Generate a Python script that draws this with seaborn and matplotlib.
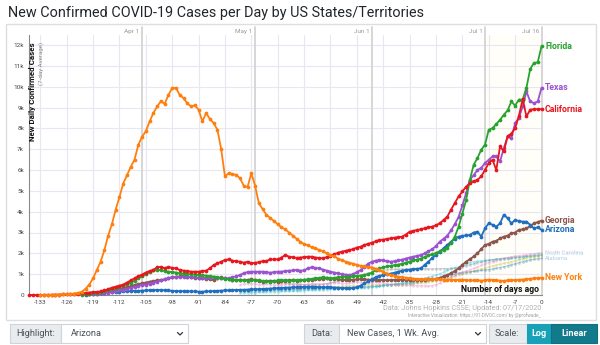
import matplotlib
matplotlib.use("Agg")
import matplotlib.pyplot as plt
import seaborn as sns
import numpy as np
from matplotlib.patches import Rectangle
from matplotlib.lines import Line2D

# ---------------- data (thousands of new cases per day, 7-day avg) ----------------
ny_start = -133
ny_vals = [0, 0, 0, 0.01, 0.01, 0.02, 0.03, 0.04, 0.05, 0.07, 0.1, 0.15,
           0.3, 0.5, 0.8, 1.2, 1.6, 2.15, 2.85, 3.4, 4.1, 4.7,
           5.35, 5.75, 6.15, 6.5, 7.2, 7.6, 7.85, 8.33, 8.73, 9.05,
           9.3, 9.17, 9.6, 9.94, 9.94, 9.6, 9.45, 9.2, 9.05, 9.1,
           8.9, 8.33, 8.73, 8.45, 8.25, 7.93, 7.0, 5.69, 5.85, 5.8,
           5.77, 5.6, 5.24, 5.18, 5.85, 5.24, 4.4, 4.12, 3.85, 3.7,
           3.55, 3.4, 3.25, 3.15, 3.0, 2.85, 2.7, 2.55, 2.45, 2.38,
           2.3, 2.25, 2.15, 2.1, 2.0, 1.92, 1.85, 1.75, 1.67, 1.6,
           1.55, 1.5, 1.45, 1.4, 1.37, 1.35, 1.32, 1.27, 1.2, 1.12,
           1.03, 0.96, 0.92, 0.88, 0.85, 0.83, 0.8, 0.79, 0.77, 0.76,
           0.75, 0.77, 0.78, 0.76, 0.75, 0.74, 0.73, 0.74, 0.72, 0.73,
           0.74, 0.72, 0.7, 0.7, 0.71, 0.69, 0.7, 0.74, 0.72, 0.7,
           0.69, 0.68, 0.7, 0.71, 0.72, 0.73, 0.74, 0.76, 0.78, 0.8, 0.81, 0.83]

ca_start = -136
ca_vals = [0, 0, 0, 0, 0.01, 0.01, 0.01, 0.02, 0.02, 0.03,
           0.03, 0.04, 0.05, 0.06, 0.08, 0.1, 0.12, 0.14, 0.15, 0.17,
           0.22, 0.28, 0.35, 0.4, 0.45, 0.5, 0.6, 0.7, 0.8, 0.9,
           0.98, 1.08, 1.15, 1.2, 1.33, 1.35, 1.28, 1.35, 1.3, 1.28,
           1.2, 1.17, 1.15, 1.12, 1.12, 1.12, 1.15, 1.17, 1.28, 1.44,
           1.52, 1.6, 1.68, 1.71, 1.65, 1.62, 1.6, 1.55, 1.6, 1.52,
           1.55, 1.57, 1.63, 1.63, 1.71, 1.71, 1.71, 1.8, 1.92, 1.84,
           1.81, 1.78, 1.8, 1.82, 1.84, 1.84, 1.8, 1.78, 1.76, 1.82,
           1.88, 1.95, 2.03, 2.08, 2.12, 2.16, 2.2, 2.28, 2.32, 2.4,
           2.46, 2.51, 2.58, 2.64, 2.66, 2.69, 2.72, 2.75, 2.78, 2.8,
           2.9, 3.04, 3.08, 3.12, 3.16, 3.2, 3.25, 3.28, 3.35, 3.44,
           3.6, 3.76, 4.1, 4.41, 4.73, 4.97, 5.2, 5.37, 5.45, 5.53,
           5.69, 6.0, 6.33, 6.49, 6.0, 7.13, 6.89, 7.61, 7.75, 8.0,
           8.6, 9.4, 8.57, 8.89, 8.92, 8.92, 8.92]

fl_start = -122
fl_vals = [0.02, 0.04, 0.06, 0.08, 0.12, 0.16, 0.2, 0.25, 0.3, 0.35,
           0.4, 0.45, 0.52, 0.6, 0.68, 0.8, 0.9, 1.0, 1.1, 1.18,
           1.2, 1.2, 1.15, 1.12, 1.1, 1.08, 1.04, 1.02, 1.0, 1.0,
           0.98, 0.96, 0.95, 0.93, 0.91, 0.88, 0.85, 0.8, 0.78, 0.75,
           0.74, 0.73, 0.72, 0.7, 0.69, 0.7, 0.72, 0.7, 0.68, 0.66,
           0.64, 0.66, 0.7, 0.72, 0.7, 0.69, 0.7, 0.72, 0.72, 0.73,
           0.75, 0.77, 0.8, 0.82, 0.85, 0.83, 0.8, 0.82, 0.85, 0.87,
           0.88, 0.88, 0.9, 0.92, 0.93, 0.96, 1.0, 1.08, 1.2, 1.28,
           1.33, 1.37, 1.4, 1.43, 1.46, 1.5, 1.55, 1.6, 1.66, 1.7,
           1.75, 1.82, 1.9, 1.95, 2.02, 2.1, 2.18, 2.25, 2.5, 2.8,
           3.28, 3.9, 4.57, 5.53, 6.25, 6.57, 6.97, 7.21, 7.93, 8.01,
           8.2, 8.41, 8.65, 8.86, 9.29, 9.09, 9.38, 9.38, 9.94, 10.85, 11.14, 11.17, 11.94]

tx_start = -120
tx_vals = [0.03, 0.04, 0.06, 0.08, 0.1, 0.12, 0.15, 0.18, 0.22, 0.26,
           0.3, 0.35, 0.4, 0.44, 0.48, 0.5, 0.55, 0.6, 0.64, 0.7,
           0.75, 0.8, 0.85, 0.86, 0.87, 0.87, 0.86, 0.85, 0.85, 0.82,
           0.8, 0.82, 0.83, 0.85, 0.82, 0.8, 0.8, 0.8, 0.85, 0.9,
           0.96, 1.05, 1.1, 1.12, 1.12, 1.12, 1.12, 1.1, 1.07, 1.1,
           1.12, 1.12, 1.15, 1.17, 1.18, 1.2, 1.17, 1.18, 1.28, 1.33,
           1.3, 1.28, 1.22, 1.17, 1.12, 1.08, 1.04, 1.0, 0.98, 0.96,
           1.0, 1.1, 1.2, 1.35, 1.5, 1.6, 1.65, 1.68, 1.66, 1.62,
           1.6, 1.62, 1.66, 1.7, 1.75, 1.8, 1.84, 1.88, 1.92, 2.0,
           2.1, 2.2, 2.35, 2.56, 2.7, 2.85, 3.1, 3.4, 3.75, 4.3,
           4.89, 5.53, 5.75, 6.0, 6.1, 6.33, 6.49, 6.65, 6.65, 6.41,
           7.05, 7.61, 7.53, 8.25, 8.49, 9.05, 9.77, 9.29, 9.21, 9.29, 9.94]

ga_start = -118
ga_vals = [0.05, 0.08, 0.12, 0.16, 0.2, 0.25, 0.3, 0.33, 0.37, 0.42,
           0.48, 0.52, 0.56, 0.6, 0.64, 0.67, 0.7, 0.72, 0.75, 0.8,
           0.85, 0.87, 0.9, 0.91, 0.88, 0.85, 0.82, 0.8, 0.8, 0.78,
           0.75, 0.72, 0.8, 0.85, 0.8, 0.75, 0.73, 0.72, 0.72, 0.72,
           0.73, 0.75, 0.72, 0.68, 0.64, 0.66, 0.69, 0.67, 0.64, 0.66,
           0.69, 0.72, 0.7, 0.69, 0.7, 0.72, 0.73, 0.74, 0.75, 0.76,
           0.78, 0.8, 0.79, 0.77, 0.75, 0.73, 0.72, 0.72, 0.73, 0.75,
           0.76, 0.75, 0.74, 0.73, 0.72, 0.72, 0.72, 0.71, 0.72, 0.73,
           0.74, 0.73, 0.72, 0.72, 0.72, 0.72, 0.73, 0.74, 0.75, 0.75,
           0.78, 0.82, 0.9, 0.96, 1.05, 1.15, 1.28, 1.45, 1.6, 1.72,
           1.85, 2.0, 2.2, 2.4, 2.45, 2.56, 2.6, 2.72, 2.8, 2.85,
           2.96, 3.0, 3.13, 3.15, 3.2, 3.3, 3.44, 3.5, 3.57]

az_start = -121
az_vals = [0.02, 0.04, 0.06, 0.08, 0.1, 0.12, 0.14, 0.15, 0.15, 0.16,
           0.17, 0.18, 0.19, 0.2, 0.2, 0.21, 0.22, 0.23, 0.24, 0.24,
           0.24, 0.23, 0.22, 0.2, 0.19, 0.19, 0.18, 0.18, 0.17, 0.17,
           0.16, 0.16, 0.17, 0.18, 0.19, 0.2, 0.21, 0.22, 0.22, 0.23,
           0.24, 0.25, 0.25, 0.26, 0.27, 0.28, 0.28, 0.29, 0.3, 0.31,
           0.32, 0.33, 0.34, 0.35, 0.36, 0.37, 0.37, 0.38, 0.39, 0.4,
           0.4, 0.39, 0.38, 0.37, 0.37, 0.37, 0.36, 0.35, 0.34, 0.33,
           0.32, 0.33, 0.37, 0.45, 0.56, 0.65, 0.75, 0.85, 0.92, 0.96,
           1.0, 1.03, 1.07, 1.12, 1.17, 1.2, 1.22, 1.24, 1.26, 1.28,
           1.45, 1.6, 1.78, 1.92, 2.08, 2.24, 2.4, 2.56, 2.7, 2.8,
           2.84, 2.86, 2.88, 3.0, 3.04, 2.8, 3.2, 3.44, 3.37,
           3.28, 3.44, 3.85, 3.69, 3.44, 3.6, 3.55, 3.52, 3.52, 3.37, 3.2, 3.25, 3.13]

# faint (non-highlighted) states, from day -80
faint_start = -80
nc_vals = [0.5, 0.52, 0.55, 0.55, 0.53, 0.5, 0.5, 0.52, 0.5, 0.48,
           0.47, 0.48, 0.5, 0.52, 0.5, 0.48, 0.47, 0.5, 0.52, 0.55,
           0.55, 0.53, 0.52, 0.55, 0.58, 0.6, 0.58, 0.55, 0.55, 0.57,
           0.6, 0.62, 0.6, 0.58, 0.57, 0.6, 0.62, 0.6, 0.58, 0.55,
           0.52, 0.5, 0.5, 0.48, 0.47, 0.46, 0.45, 0.45, 0.44, 0.43,
           0.43, 0.45, 0.5, 0.56, 0.65, 0.75, 0.85, 0.96, 1.05, 1.1,
           1.15, 1.22, 1.28, 1.35, 1.42, 1.5, 1.55, 1.6, 1.65, 1.7,
           1.75, 1.8, 1.84, 1.86, 1.88, 1.9, 1.92, 1.95, 1.98, 2.0, 2.03]
sc_vals = [0.1, 0.1, 0.11, 0.12, 0.12, 0.13, 0.13, 0.14, 0.15, 0.15,
           0.16, 0.17, 0.17, 0.18, 0.19, 0.2, 0.2, 0.21, 0.22, 0.23,
           0.24, 0.25, 0.25, 0.26, 0.27, 0.28, 0.29, 0.3, 0.3, 0.31,
           0.32, 0.33, 0.34, 0.35, 0.36, 0.38, 0.4, 0.42, 0.45, 0.48,
           0.5, 0.52, 0.55, 0.58, 0.6, 0.63, 0.66, 0.7, 0.75, 0.8,
           0.85, 0.9, 0.96, 1.02, 1.1, 1.18, 1.25, 1.32, 1.36, 1.42,
           1.48, 1.55, 1.6, 1.62, 1.64, 1.66, 1.68, 1.7, 1.71, 1.72,
           1.73, 1.74, 1.76, 1.78, 1.8, 1.82, 1.85, 1.88, 1.9, 1.94, 1.97]
al_vals = [0.18, 0.18, 0.19, 0.2, 0.2, 0.2, 0.21, 0.22, 0.22, 0.23,
           0.24, 0.24, 0.25, 0.25, 0.26, 0.26, 0.27, 0.28, 0.28, 0.29,
           0.3, 0.3, 0.31, 0.32, 0.32, 0.33, 0.34, 0.34, 0.35, 0.36,
           0.37, 0.38, 0.38, 0.39, 0.4, 0.41, 0.42, 0.44, 0.46, 0.48,
           0.5, 0.52, 0.53, 0.55, 0.57, 0.58, 0.6, 0.62, 0.65, 0.68,
           0.7, 0.72, 0.76, 0.8, 0.85, 0.9, 0.96, 1.0, 1.04, 1.08,
           1.1, 1.12, 1.14, 1.16, 1.18, 1.2, 1.22, 1.25, 1.28, 1.32,
           1.36, 1.4, 1.45, 1.5, 1.55, 1.6, 1.64, 1.68, 1.71, 1.74, 1.76]
la_vals = [0.75, 0.73, 0.72, 0.7, 0.7, 0.68, 0.66, 0.65, 0.63, 0.62,
           0.6, 0.58, 0.57, 0.55, 0.54, 0.53, 0.52, 0.5, 0.5, 0.5,
           0.5, 0.5, 0.52, 0.55, 0.58, 0.62, 0.66, 0.7, 0.75, 0.8,
           0.85, 0.9, 0.95, 1.0, 1.05, 1.1, 1.15, 1.18, 1.2, 1.22,
           1.23, 1.24, 1.24, 1.25, 1.25, 1.24, 1.24, 1.25, 1.25, 1.26,
           1.25, 1.25, 1.26, 1.26, 1.27, 1.27, 1.28, 1.28, 1.3, 1.35,
           1.4, 1.45, 1.5, 1.55, 1.58, 1.62, 1.66, 1.7, 1.72, 1.75,
           1.77, 1.79, 1.8, 1.82, 1.83, 1.84, 1.85, 1.86, 1.87, 1.88, 1.9]
tn_vals = [0.2, 0.2, 0.21, 0.22, 0.22, 0.23, 0.24, 0.25, 0.25, 0.26,
           0.27, 0.28, 0.28, 0.29, 0.3, 0.3, 0.31, 0.32, 0.33, 0.34,
           0.35, 0.36, 0.37, 0.38, 0.39, 0.4, 0.4, 0.41, 0.42, 0.43,
           0.44, 0.45, 0.46, 0.47, 0.48, 0.49, 0.5, 0.5, 0.5, 0.5,
           0.5, 0.5, 0.5, 0.5, 0.5, 0.52, 0.54, 0.56, 0.58, 0.6,
           0.62, 0.65, 0.68, 0.72, 0.76, 0.8, 0.85, 0.9, 0.96, 1.0,
           1.05, 1.1, 1.15, 1.2, 1.25, 1.3, 1.35, 1.4, 1.44, 1.48,
           1.52, 1.56, 1.6, 1.64, 1.68, 1.72, 1.76, 1.8, 1.84, 1.88, 1.92]

x_ticks = list(range(-133, 1, 7))
y_ticks = list(range(0, 13))
y_tick_labels = ["0"] + [f"{k}k" for k in range(1, 13)]
date_labels = ["Apr 1", "May 1", "Jun 1", "Jul 1", "Jul 16"]
date_days = [-106, -76, -45, -15, 0]

# ---------------- styling ----------------
W, H = 600, 345
sns.set_theme(style="white")
plt.rcParams["font.family"] = ["Roboto", "DejaVu Sans"]

fig = plt.figure(figsize=(6, 3.45), dpi=100)
fig.patch.set_facecolor("white")

def fx(x):
    return x / W

def fy(y):
    return 1 - y / H

# outer panel frame
fig.patches.append(Rectangle((fx(6), fy(320)), fx(596) - fx(6), fy(24) - fy(320),
                             transform=fig.transFigure, fill=False,
                             edgecolor="#dedede", lw=1.0, zorder=0))

ax = fig.add_axes([fx(29), fy(295), fx(541.5) - fx(29), fy(35) - fy(295)])
ax.set_facecolor("white")
ax.set_xlim(-136, 0)
ax.set_ylim(0, 12.48)

ax.axvspan(-15, 0, color="#fffef8", zorder=0, lw=0)

ax.set_xticks(x_ticks)
ax.set_xticklabels([str(t) for t in x_ticks])
ax.set_yticks(y_ticks)
ax.set_yticklabels(y_tick_labels)
ax.grid(True, color="#e8e6f2", lw=0.8)
ax.set_axisbelow(True)
ax.tick_params(axis="both", labelsize=4.6, labelcolor="#444444", color="#999999",
               length=2, width=0.6, pad=1.5)
for s in ["top", "right"]:
    ax.spines[s].set_visible(False)
for s in ["left", "bottom"]:
    ax.spines[s].set_color("#8a8a8a")
    ax.spines[s].set_linewidth(0.8)

for lab, d in zip(date_labels, date_days):
    ax.axvline(d, ymin=0, ymax=(295 - 27) / 260, color="#d0d0d0", lw=1.2,
               clip_on=False, zorder=1)
    ax.annotate(lab, xy=(d, 1.0), xycoords=("data", "axes fraction"),
                xytext=(-1.8, 2.2), textcoords="offset points", ha="right",
                va="center", fontsize=4.6, color="#9a9a9a")

faint = [("Louisiana", la_vals, "#7f7f7f"),
         ("Tennessee", tn_vals, "#bcbd22"),
         ("Alabama", al_vals, "#1f77b4"),
         ("South Carolina", sc_vals, "#17becf"),
         ("North Carolina", nc_vals, "#e377c2")]
for name, vals, col in faint:
    days = np.arange(faint_start, faint_start + len(vals))
    sns.lineplot(x=days, y=vals, ax=ax, color=col, alpha=0.3, lw=0.9,
                 marker="o", markersize=2.0, markeredgewidth=0, zorder=2,
                 legend=False)

main = [("Georgia", ga_start, ga_vals, "#8c564b"),
        ("Arizona", az_start, az_vals, "#1f6fc0"),
        ("Texas", tx_start, tx_vals, "#9b52cf"),
        ("Florida", fl_start, fl_vals, "#27a32d"),
        ("California", ca_start, ca_vals, "#e8161e"),
        ("New York", ny_start, ny_vals, "#ff7f0e")]
for name, start, vals, col in main:
    days = np.arange(start, start + len(vals))
    sns.lineplot(x=days, y=vals, ax=ax, color=col, lw=1.3, marker="o",
                 markersize=2.7, markeredgewidth=0, zorder=3, clip_on=False,
                 legend=False)

ax.set_xlabel("")
ax.set_ylabel("")

# end labels
for name, start, vals, col in main:
    ax.annotate(name, xy=(0, vals[-1]), xytext=(2.6, 0), textcoords="offset points",
                ha="left", va="center", fontsize=6.3, fontweight="bold", color=col,
                annotation_clip=False)
for name, vals, col in faint:
    if name in ("North Carolina", "South Carolina", "Alabama"):
        ax.annotate(name, xy=(0, vals[-1]), xytext=(2.6, 0), textcoords="offset points",
                    ha="left", va="center", fontsize=4.2, color=col, alpha=0.35,
                    annotation_clip=False)

# axis captions
fig.text(fx(33), fy(42), "New Daily Confirmed Cases", rotation=90, ha="center",
         va="top", fontsize=5.7, fontweight="bold", color="#111111")
fig.text(fx(41.5), fy(42), "(7-day Average)", rotation=90, ha="center",
         va="top", fontsize=4.4, color="#8a8a8a")
fig.text(fx(539), fy(289), "Number of days ago", ha="right", va="center",
         fontsize=6.2, fontweight="bold", color="#111111")

# title
fig.text(fx(8), fy(13), "New Confirmed COVID-19 Cases per Day by US States/Territories",
         ha="left", va="center", fontsize=10.4, color="#212529")

# source notes
fig.text(fx(541), fy(309), "Data: Johns Hopkins CSSE; Updated: 07/17/2020",
         ha="right", va="center", fontsize=5.2, color="#b0b0b0")
fig.text(fx(541), fy(315.5), "Interactive Visualization: https://91-DIVOC.com/ by @profwade_",
         ha="right", va="center", fontsize=3.3, color="#a0a0a0")

# bottom controls
def box(x0, x1, face, edge="#ced4da"):
    fig.patches.append(Rectangle((fx(x0), fy(343)), fx(x1) - fx(x0), fy(324) - fy(343),
                                 transform=fig.transFigure, facecolor=face,
                                 edgecolor=edge, lw=0.8, zorder=1))

def chevron(xc):
    fig.lines.append(Line2D([fx(xc - 2.5), fx(xc), fx(xc + 2.5)],
                            [fy(332.5), fy(335), fy(332.5)],
                            transform=fig.transFigure, color="#333333", lw=0.9))

box(9.5, 61, "#e9ecef")
box(61, 188, "white")
fig.text(fx(16), fy(333.5), "Highlight:", ha="left", va="center", fontsize=6.6, color="#495057")
fig.text(fx(71), fy(333.5), "Arizona", ha="left", va="center", fontsize=6.6, color="#495057")
chevron(180)

box(304, 339, "#e9ecef")
box(339, 486, "white")
fig.text(fx(311), fy(333.5), "Data:", ha="left", va="center", fontsize=6.6, color="#495057")
fig.text(fx(347), fy(333.5), "New Cases, 1 Wk. Avg.", ha="left", va="center", fontsize=6.6, color="#495057")
chevron(478)

box(489, 527, "#e9ecef")
box(527, 551, "#17a2b8", edge="#17a2b8")
box(551, 597, "#117a8b", edge="#10707f")
fig.text(fx(495), fy(333.5), "Scale:", ha="left", va="center", fontsize=6.6, color="#495057")
fig.text(fx(539), fy(333.5), "Log", ha="center", va="center", fontsize=6.6,
         fontweight="bold", color="white")
fig.text(fx(574), fy(333.5), "Linear", ha="center", va="center", fontsize=6.6,
         fontweight="bold", color="white")

fig.savefig("out.png", dpi=100, facecolor="white")
